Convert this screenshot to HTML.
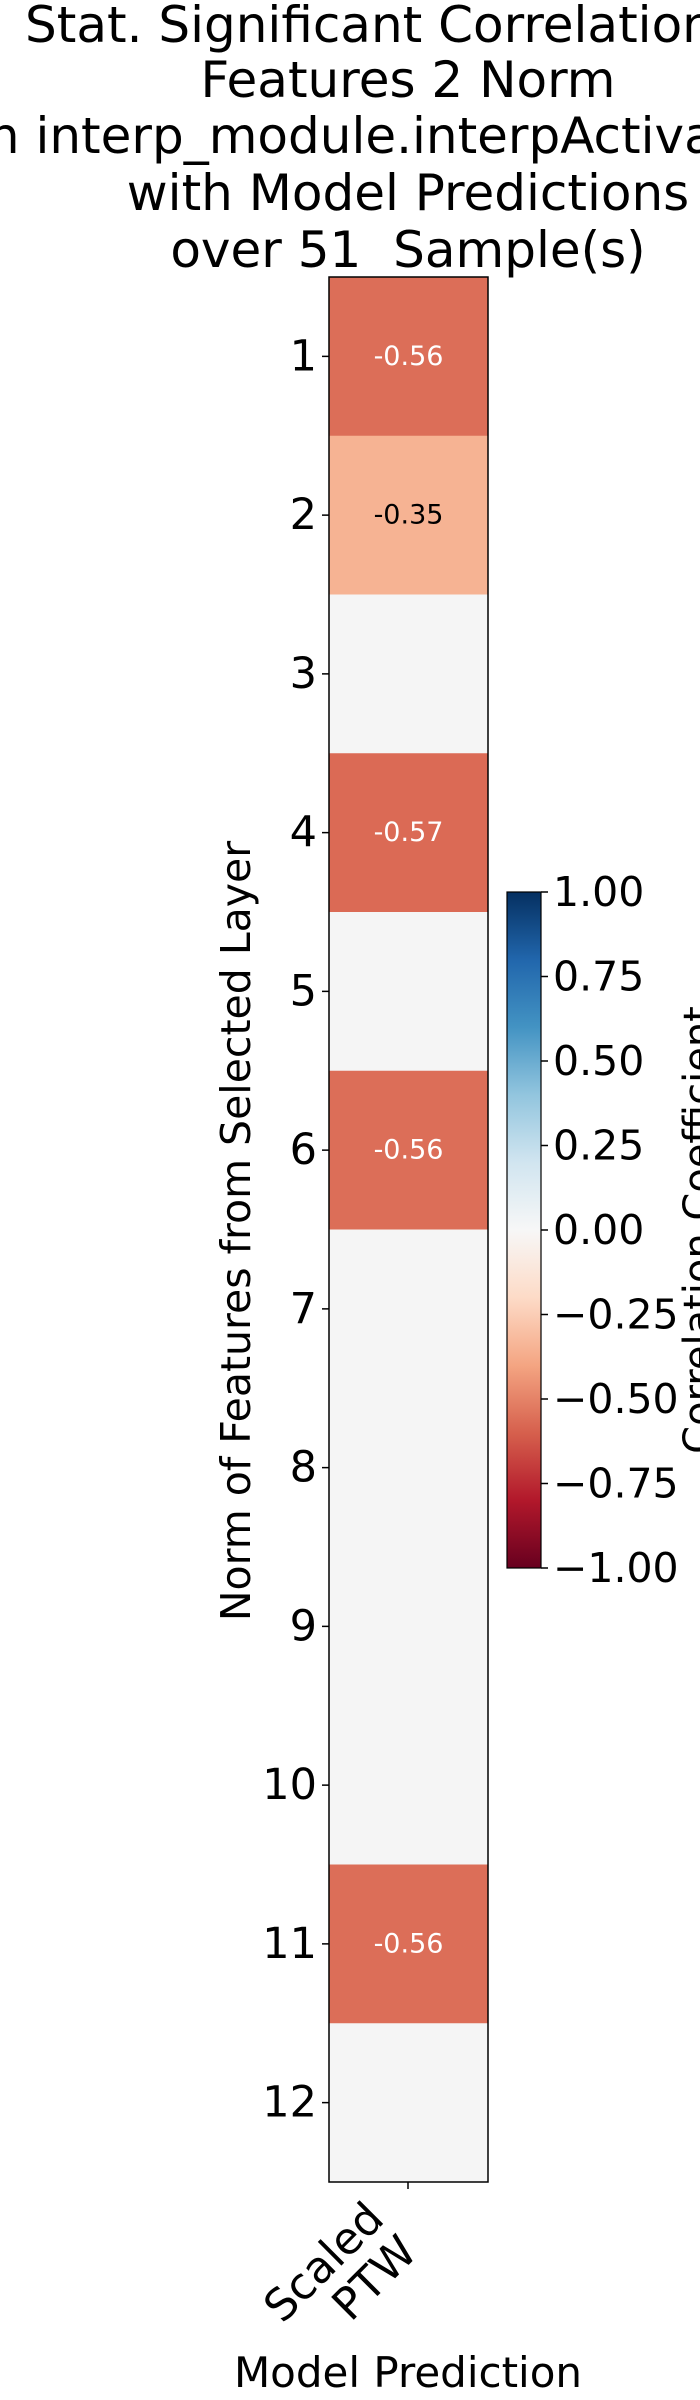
<!DOCTYPE html>
<html><head><meta charset="utf-8"><style>
html,body{margin:0;padding:0;background:#fff;}
svg{display:block;font-family:"DejaVu Sans","Liberation Sans",sans-serif;}
</style></head><body>
<svg id="chart" width="700" height="2400" viewBox="0 0 700 2400" xmlns="http://www.w3.org/2000/svg">
<defs>
<linearGradient id="rdbu" x1="0" y1="1" x2="0" y2="0">
<stop offset="0" stop-color="#67001f"/><stop offset="0.1" stop-color="#b2182b"/><stop offset="0.2" stop-color="#d6604d"/><stop offset="0.3" stop-color="#f4a582"/><stop offset="0.4" stop-color="#fddbc7"/><stop offset="0.5" stop-color="#f7f7f7"/><stop offset="0.6" stop-color="#d1e5f0"/><stop offset="0.7" stop-color="#92c5de"/><stop offset="0.8" stop-color="#4393c3"/><stop offset="0.9" stop-color="#2166ac"/><stop offset="1" stop-color="#053061"/>
</linearGradient>
</defs>
<g font-size="50" fill="#000">
<text x="25" y="42">Stat. Significant Correlations</text>
<text x="408" y="97" text-anchor="middle">Features 2 Norm</text>
<text x="-26" y="153">in interp_module.interpActivations</text>
<text x="408" y="210" text-anchor="middle">with Model Predictions</text>
<text x="408" y="267" text-anchor="middle" xml:space="preserve">over 51  Sample(s)</text>
</g>
<g id="cells"></g>
<g id="yticks"></g>
<rect x="329" y="277" width="159" height="1905" fill="none" stroke="#000" stroke-width="1.5"/>
<line x1="408" y1="2182" x2="408" y2="2189" stroke="#000" stroke-width="1.5"/>
<g transform="translate(386,2221) rotate(-45)" font-size="44" text-anchor="end">
<text x="0" y="0">Scaled</text><text x="0" y="47">PTW</text>
</g>
<text x="408" y="2387" font-size="42" text-anchor="middle">Model Prediction</text>
<text transform="translate(250,1231) rotate(-90)" font-size="41" text-anchor="middle">Norm of Features from Selected Layer</text>
<rect x="507" y="892" width="34" height="676" fill="url(#rdbu)" stroke="#000" stroke-width="1.2"/>
<g id="cbticks"></g>
<text transform="translate(712,1230) rotate(-90)" font-size="40" text-anchor="middle">Correlation Coefficient</text>
</svg>
<script>
const rowLabels = ["1","2","3","4","5","6","7","8","9","10","11","12"];
const values = [-0.56,-0.35,0,-0.57,0,-0.56,0,0,0,0,-0.56,0];
const shown = [true,true,false,true,false,true,false,false,false,false,true,false];
const cbTickValues = [1,0.75,0.5,0.25,0,-0.25,-0.5,-0.75,-1];
const cbTickLabels = ["1.00","0.75","0.50","0.25","0.00","\u22120.25","\u22120.50","\u22120.75","\u22121.00"];

const NS = "http://www.w3.org/2000/svg";
const top0 = 277, bottom0 = 2182, left0 = 329, right0 = 488;
const rowH = (bottom0 - top0) / rowLabels.length;
function yRow(i){ return top0 + i * rowH; }
const cbTop = 892, cbBot = 1568;
function yCb(v){ return cbBot - (v + 1) / 2 * (cbBot - cbTop); }
const stops = ["#67001f","#b2182b","#d6604d","#f4a582","#fddbc7","#f7f7f7","#d1e5f0","#92c5de","#4393c3","#2166ac","#053061"];
function hex(h){ return [1,3,5].map(k=>parseInt(h.substr(k,2),16)); }
function rdbu(v){
  const t = Math.max(0, Math.min(1, (v + 1) / 2)) * 10;
  const i = Math.min(9, Math.floor(t)), f = t - i;
  const a = hex(stops[i]), b = hex(stops[i+1]);
  return "rgb(" + a.map((c,k)=>Math.round(c + (b[k]-c)*f)).join(",") + ")";
}
const cells = document.getElementById("cells");
const yt = document.getElementById("yticks");
values.forEach((v,i)=>{
  const r = document.createElementNS(NS,"rect");
  r.setAttribute("x", left0); r.setAttribute("y", yRow(i));
  r.setAttribute("width", right0-left0); r.setAttribute("height", rowH+0.5);
  r.setAttribute("fill", v === 0 ? "#f5f5f5" : rdbu(v));
  
  
  cells.appendChild(r);
  const cy = yRow(i) + rowH/2;
  if (shown[i]) {
    const t = document.createElementNS(NS,"text");
    t.setAttribute("x", (left0+right0)/2); t.setAttribute("y", cy);
    t.setAttribute("text-anchor","middle"); t.setAttribute("dominant-baseline","central");
    t.setAttribute("font-size","27");
    t.setAttribute("fill", Math.abs(v) > 0.5 ? "#fff" : "#000");
    t.textContent = v.toFixed(2);
    
    
    cells.appendChild(t);
  }
  const tk = document.createElementNS(NS,"line");
  tk.setAttribute("x1", left0-7); tk.setAttribute("x2", left0);
  tk.setAttribute("y1", cy); tk.setAttribute("y2", cy);
  tk.setAttribute("stroke","#000"); tk.setAttribute("stroke-width","1.5");
  
  
  yt.appendChild(tk);
  const lb = document.createElementNS(NS,"text");
  lb.setAttribute("x", 317); lb.setAttribute("y", cy);
  lb.setAttribute("text-anchor","end"); lb.setAttribute("dominant-baseline","central");
  lb.setAttribute("font-size","43");
  lb.textContent = rowLabels[i];
  
  
  yt.appendChild(lb);
});
const cb = document.getElementById("cbticks");
cbTickValues.forEach((v,i)=>{
  const y = yCb(v);
  const tk = document.createElementNS(NS,"line");
  tk.setAttribute("x1", 541); tk.setAttribute("x2", 548);
  tk.setAttribute("y1", y); tk.setAttribute("y2", y);
  tk.setAttribute("stroke","#000"); tk.setAttribute("stroke-width","1.5");
  
  
  cb.appendChild(tk);
  const lb = document.createElementNS(NS,"text");
  lb.setAttribute("x", 553); lb.setAttribute("y", y);
  lb.setAttribute("dominant-baseline","central");
  lb.setAttribute("font-size","41");
  lb.textContent = cbTickLabels[i];
  
  
  cb.appendChild(lb);
});
</script>
</body></html>
